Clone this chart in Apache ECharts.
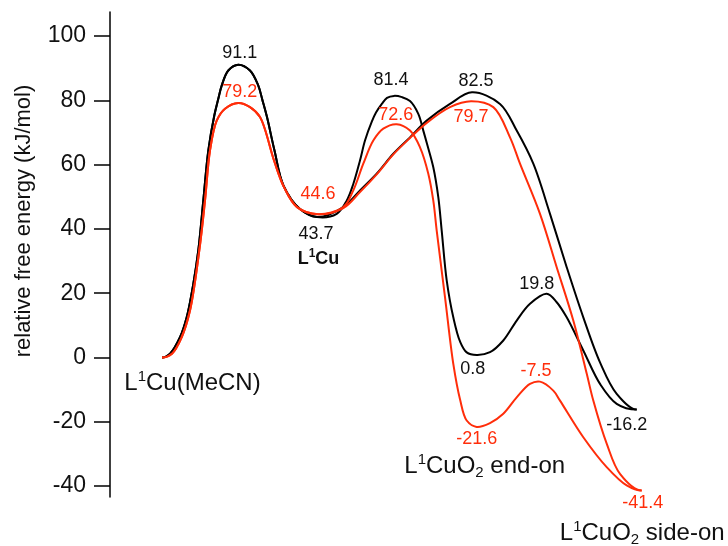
<!DOCTYPE html>
<html>
<head>
<meta charset="utf-8">
<script src="https://cdn.jsdelivr.net/npm/echarts@6/dist/echarts.min.js"></script>
<style>
  html, body { margin: 0; padding: 0; background: #fff; }
  #chart { width: 728px; height: 546px; }
</style>
</head>
<body>
<div id="chart"></div>
<script>
// Energy values (kJ/mol) along the reaction coordinate (arbitrary units).
const yTicks = [-40, -20, 0, 20, 40, 60, 80, 100];

// L1Cu(MeCN) -> TS -> L1Cu (shared by both pathways)
const blackCommon = [[52,0],[60,1.2],[70,6.3],[76.7,12.5],[83.3,22.9],[88.3,33.3],[93.3,48.8],[98.3,64.4],[104.3,75.3],[108.3,80.5],[111.7,84.6],[118.3,89.3],[128.3,91.1],[140,89.3],[148.3,84.6],[152.5,80.0],[157,74.8],[164.5,64.4],[173.5,53.5],[190,46.2],[207,43.7]];
const redCommon = [[52,0],[62,1.2],[71.7,6.3],[80,14.6],[89.3,33.3],[95,48.8],[100,64.4],[106.7,73.7],[115,77.4],[128.3,79.2],[140,77.9],[150,74.8],[164,61.3],[174,53.0],[187,46.8],[208,44.6]];

// L1Cu -> end-on O2 adduct -> side-on O2 adduct
const blackEndOn = [[226.7,44.7],[236.7,48.8],[243.3,54.0],[250,61.3],[255,67.5],[261.7,73.3],[266,76.2],[272,79.0],[277,80.8],[284,81.4],[292,81.0],[300,79.8],[308.3,75.8],[313.3,70.6],[317,66.5],[323.3,59.2],[328.3,49.9],[331.7,39.5],[336.7,24.0],[343.3,12.5],[350,5.0],[356.7,1.6],[366.7,0.8],[380,1.65],[393.3,5.3],[406.7,11.5],[420,16.7],[436.7,19.8],[446.7,17.2],[456.7,12.5],[473.3,2.2],[490,-8.2],[506.7,-14.4],[526.7,-16.2]];
const redEndOn = [[233.3,46.8],[243.3,52.0],[253.3,60.3],[263.3,67.5],[273.3,71.2],[286.7,72.6],[300,70.6],[310,65.4],[318.3,57.2],[323.3,48.8],[326.7,39.5],[335,18.8],[343.3,-2.0],[350,-13.0],[356.7,-19.6],[366.7,-21.6],[380,-20.4],[393.3,-17.5],[406.7,-12.4],[420,-8.2],[430,-7.5],[443.3,-10.3],[450,-13.4],[473.3,-24.8],[496.7,-34.1],[516.7,-39.8],[531.7,-41.4]];

// L1Cu -> direct side-on O2 adduct
const blackSideOn = [[233.3,46.8],[250,52.0],[266.7,57.2],[283.3,63.4],[300,68.5],[316.7,73.7],[340,78.9],[362,82.5],[390,78.9],[406.7,70.6],[423.3,60.3],[440,44.7],[456.7,28.1],[473.3,12.5],[490,-1.5],[506.7,-11.3],[526.7,-16.2]];
const redSideOn = [[233.3,46.5],[250,51.5],[266.7,57.0],[283.3,63.2],[300,68.3],[316.7,73.0],[340,77.9],[361,79.7],[383.3,77.9],[400,68.5],[410,60.3],[430,44.7],[446.7,28.1],[463.3,11.5],[476.7,-5.0],[483.3,-13.4],[496.7,-26.8],[510,-36.2],[531.7,-41.4]];

const BLACK = '#000000';
const RED = '#ff2d0a';
const TEXT_BLACK = '#111111';

// Which stationary points get a value label, and where the label sits (pixel offset of its centre).
const valueLabels = [
  { curve: blackCommon, i: 12, color: TEXT_BLACK, off: [1.5, -12] },
  { curve: blackCommon, i: 20, color: TEXT_BLACK, off: [-1, 16.5] },
  { curve: blackEndOn, i: 9, color: TEXT_BLACK, off: [-3, -16] },
  { curve: blackEndOn, i: 22, color: TEXT_BLACK, off: [-4, 14] },
  { curve: blackEndOn, i: 27, color: TEXT_BLACK, off: [-10, -10] },
  { curve: blackSideOn, i: 7, color: TEXT_BLACK, off: [4, -11] },
  { curve: blackSideOn, i: 16, color: TEXT_BLACK, off: [-10, 15] },
  { curve: redCommon, i: 9, color: RED, off: [1.5, -10.5] },
  { curve: redCommon, i: 15, color: RED, off: [0, -19.7] },
  { curve: redEndOn, i: 5, color: RED, off: [-1, -9] },
  { curve: redEndOn, i: 15, color: RED, off: [0, 12] },
  { curve: redEndOn, i: 20, color: RED, off: [-4, -11] },
  { curve: redEndOn, i: 26, color: RED, off: [1, 12] },
  { curve: redSideOn, i: 7, color: RED, off: [0, 16] }
];

// Species names, anchored to the stationary point they describe.
const speciesLabels = [
  { curve: blackCommon, i: 0, text: 'L{sup|1}Cu(MeCN)', off: [30.5, 26] },
  { curve: blackCommon, i: 20, text: '{b|L}{bsup|1}{b|Cu}', off: [1.5, 41.5] },
  { curve: redEndOn, i: 15, text: 'L{sup|1}CuO{sub|2} end-on', off: [8, 39] },
  { curve: redEndOn, i: 26, text: 'L{sup|1}CuO{sub|2} side-on', off: [0.5, 43] }
];

const FONT = "'Liberation Sans', Arial, Helvetica, sans-serif";

// Centripetal Catmull-Rom spline through pixel points, written as cubic Bezier path data.
// The ends are given a horizontal tangent, as energy profiles start and finish flat.
function splinePath(pts) {
  function dist(a, b) { return Math.hypot(b[0] - a[0], b[1] - a[1]) || 1e-6; }
  let d = 'M' + pts[0][0].toFixed(2) + ' ' + pts[0][1].toFixed(2);
  for (let i = 0; i < pts.length - 1; i++) {
    const p1 = pts[i], p2 = pts[i + 1];
    const p0 = i > 0 ? pts[i - 1] : [2 * p1[0] - p2[0], p2[1]];
    const p3 = i < pts.length - 2 ? pts[i + 2] : [2 * p2[0] - p1[0], p1[1]];
    const d1 = Math.sqrt(dist(p0, p1)), d2 = Math.sqrt(dist(p1, p2)), d3 = Math.sqrt(dist(p2, p3));
    const c1 = [0, 0], c2 = [0, 0];
    for (let k = 0; k < 2; k++) {
      c1[k] = (d1 * d1 * p2[k] - d2 * d2 * p0[k] + (2 * d1 * d1 + 3 * d1 * d2 + d2 * d2) * p1[k]) / (3 * d1 * (d1 + d2));
      c2[k] = (d3 * d3 * p1[k] - d2 * d2 * p3[k] + (2 * d3 * d3 + 3 * d3 * d2 + d2 * d2) * p2[k]) / (3 * d3 * (d3 + d2));
    }
    d += ' C' + c1[0].toFixed(2) + ' ' + c1[1].toFixed(2) + ' ' + c2[0].toFixed(2) + ' ' + c2[1].toFixed(2) + ' ' + p2[0].toFixed(2) + ' ' + p2[1].toFixed(2);
  }
  return d;
}

function curveSeries(data, color) {
  return {
    type: 'custom',
    coordinateSystem: 'cartesian2d',
    data: data,
    encode: { x: 0, y: 1 },
    silent: true,
    animation: false,
    clip: false,
    renderItem: function (params, api) {
      if (params.dataIndex !== 0) return null;
      const pts = data.map(function (p) { return api.coord(p); });
      return {
        type: 'path',
        shape: { pathData: splinePath(pts) },
        style: { fill: null, stroke: color, lineWidth: 2, lineJoin: 'round' }
      };
    }
  };
}

const valueLabelSeries = {
  type: 'scatter',
  symbolSize: 0,
  silent: true,
  animation: false,
  z: 5,
  itemStyle: { opacity: 1 },
  data: valueLabels.map(function (l) {
    const p = l.curve[l.i];
    return {
      value: p,
      label: {
        show: true,
        position: 'inside',
        offset: l.off,
        formatter: p[1].toFixed(1),
        color: l.color,
        opacity: 1,
        fontSize: 18,
        fontFamily: FONT
      }
    };
  })
};

const speciesRich = {
  sup: { fontSize: 15, fontFamily: FONT, color: TEXT_BLACK, verticalAlign: 'top', lineHeight: 17 },
  sub: { fontSize: 15, fontFamily: FONT, color: TEXT_BLACK, verticalAlign: 'bottom', lineHeight: 13 },
  b: { fontSize: 18, fontWeight: 'bold', fontFamily: FONT, color: TEXT_BLACK, lineHeight: 22 },
  bsup: { fontSize: 12, fontWeight: 'bold', fontFamily: FONT, color: TEXT_BLACK, verticalAlign: 'top', lineHeight: 14 }
};

const speciesSeries = {
  type: 'scatter',
  symbolSize: 0,
  silent: true,
  animation: false,
  z: 5,
  itemStyle: { opacity: 1 },
  data: speciesLabels.map(function (l) {
    return {
      value: l.curve[l.i],
      label: {
        show: true,
        position: 'inside',
        offset: l.off,
        formatter: l.text,
        fontSize: 24,
        lineHeight: 28,
        fontFamily: FONT,
        color: TEXT_BLACK,
        opacity: 1,
        rich: speciesRich
      }
    };
  })
};

const chart = echarts.init(document.getElementById('chart'), null, { renderer: 'canvas' });
chart.setOption({
  animation: false,
  backgroundColor: '#ffffff',
  grid: { left: 110, top: 12, width: 600, height: 485 },
  xAxis: { type: 'value', min: 0, max: 600, show: false },
  yAxis: {
    type: 'value',
    min: -43.4,
    max: 107.5,
    splitLine: { show: false },
    axisLine: { show: true, onZero: false, lineStyle: { color: BLACK, width: 1.5 } },
    axisTick: { show: true, customValues: yTicks, length: 16, inside: false, lineStyle: { color: BLACK, width: 1.5 } },
    axisLabel: { customValues: yTicks, fontSize: 23, color: TEXT_BLACK, margin: 24, fontFamily: FONT }
  },
  graphic: [{
    type: 'text',
    x: 24,
    y: 221,
    rotation: Math.PI / 2,
    style: {
      text: 'relative free energy (kJ/mol)',
      fontSize: 22,
      fontFamily: FONT,
      fill: TEXT_BLACK,
      align: 'center',
      verticalAlign: 'middle'
    }
  }],
  series: [
    curveSeries(blackCommon.concat(blackEndOn), BLACK),
    curveSeries(blackCommon.concat(blackSideOn), BLACK),
    curveSeries(redCommon.concat(redEndOn), RED),
    curveSeries(redCommon.concat(redSideOn), RED),
    valueLabelSeries,
    speciesSeries
  ]
});
</script>
</body>
</html>
